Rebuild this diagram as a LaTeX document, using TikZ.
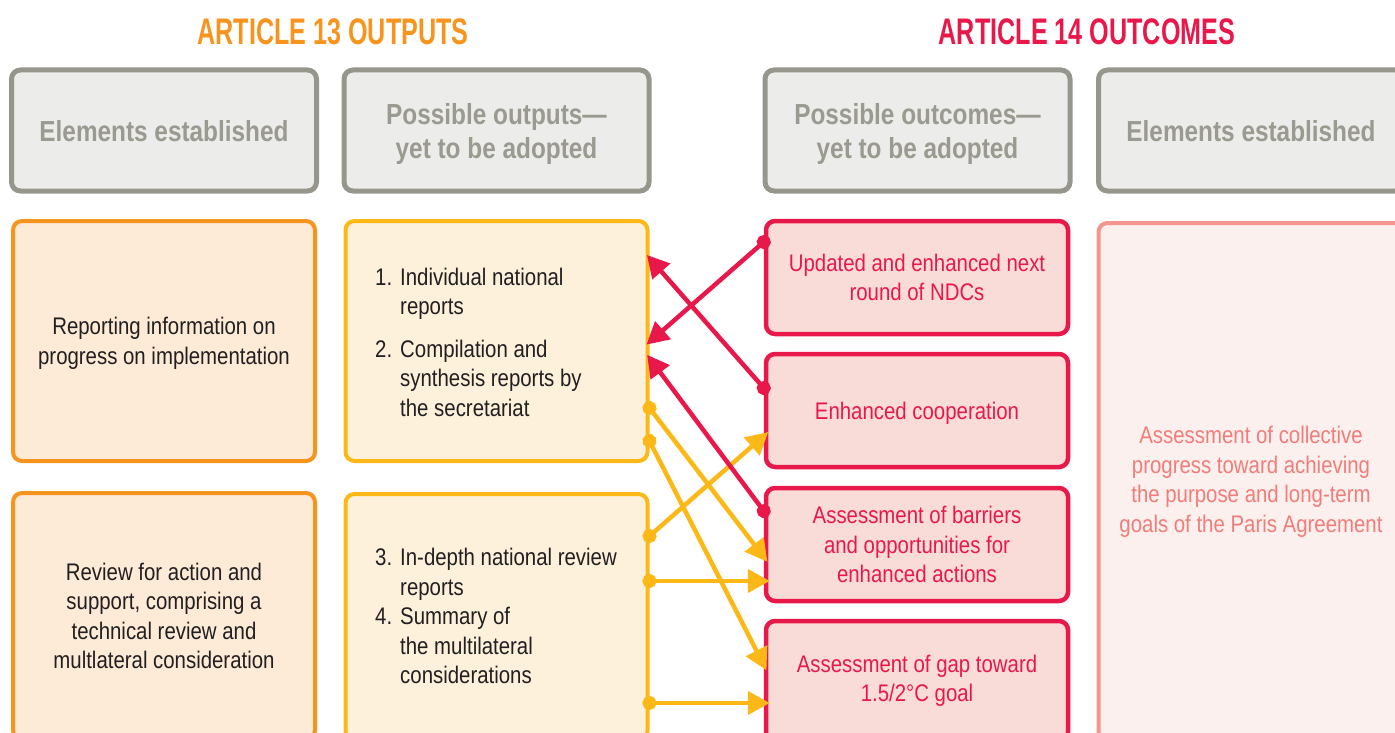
\documentclass[tikz,border=0pt]{standalone}
\usepackage{fontspec}
\setmainfont{Liberation Sans}[FakeStretch=0.85]
\newfontfamily\headfont{Liberation Sans}[FakeStretch=0.84]
\newfontfamily\titlefont{Liberation Sans}[FakeStretch=0.68]
\usetikzlibrary{arrows.meta}

\definecolor{artorange}{HTML}{F7941D}
\definecolor{artred}{HTML}{E8194A}
\definecolor{headline}{HTML}{97968C}
\definecolor{headfill}{HTML}{ECECEA}
\definecolor{headtext}{HTML}{9B9A91}
\definecolor{orangefill}{HTML}{FDEBD7}
\definecolor{gold}{HTML}{FCB817}
\definecolor{goldfill}{HTML}{FEF1DC}
\definecolor{redfill}{HTML}{F9DCD7}
\definecolor{pinkline}{HTML}{F4958E}
\definecolor{pinkfill}{HTML}{FCF0EE}
\definecolor{pinktext}{HTML}{F07D7A}
\definecolor{darktext}{HTML}{231F20}

\tikzset{
  box/.style={draw, rounded corners=9pt, line width=4pt, minimum width=302pt,
    inner sep=0pt, align=center, text=darktext,
    font=\fontsize{24}{29.5}\selectfont},
  headbox/.style={box, draw=headline, fill=headfill, text=headtext, line width=5pt,
    minimum width=305pt, minimum height=121pt, text depth=0pt,
    font=\headfont\bfseries\fontsize{29}{34}\selectfont},
  title/.style={font=\titlefont\bfseries\fontsize{37}{40}\selectfont, inner sep=0pt},
  elembox/.style={box, draw=artorange, fill=orangefill},
  outbox/.style={box, draw=gold, fill=goldfill},
  outcbox/.style={box, draw=artred, fill=redfill, text=artred, line width=4.5pt,
    minimum height=113pt},
  listtext/.style={anchor=west, inner sep=0pt, text=darktext,
    font=\fontsize{24}{29.5}\selectfont},
  redarrow/.style={draw=artred, line width=4.5pt,
    {Circle[length=14pt]}-{Triangle[length=22pt,width=23pt]},
    shorten <=-7pt, shorten >=-4pt},
  goldarrow/.style={draw=gold, line width=4.5pt,
    {Circle[length=14pt]}-{Triangle[length=22pt,width=23pt]},
    shorten <=-7pt, shorten >=-6pt}
}

\begin{document}
\begin{tikzpicture}[x=1pt,y=-1pt]
  \path[use as bounding box, clip] (0,0) rectangle (1395,733);

  % Titles
  \node[title, text=artorange] (t13) at (333,32) {ARTICLE 13 OUTPUTS};
  \node[title, text=artred] (t14) at (1087,32) {ARTICLE 14 OUTCOMES};

  % Header boxes
  \node[headbox] (h1) at (164,130.5) {Elements established};
  \node[headbox] (h2) at (496.5,130.5) {Possible outputs—\\yet to be adopted};
  \node[headbox] (h3) at (917.5,130.5) {Possible outcomes—\\yet to be adopted};
  \node[headbox] (h4) at (1251,130.5) {Elements established};

  % Article 13 elements
  \node[elembox, minimum height=240pt, text depth=0pt] (rep) at (164,341) {Reporting information on\\progress on implementation};
  \node[elembox, minimum height=246pt] (rev) at (164,616) {Review for action and\\support, comprising a\\technical review and\\multlateral consideration};

  % Article 13 outputs
  \node[outbox, minimum height=240pt] (out12) at (496.5,341) {};
  \node[outbox, minimum height=246pt] (out34) at (496.5,617) {};
  \node[listtext] (list12) at ([xshift=31.5pt,yshift=-4pt]out12.west) {%
    \begin{tabular}{@{}l@{\hspace{8pt}}l@{}}
      1. & Individual national\\
         & reports\\[13pt]
      2. & Compilation and\\
         & synthesis reports by\\
         & the secretariat
    \end{tabular}};
  \node[listtext] (list34) at ([xshift=31.5pt,yshift=-2pt]out34.west) {%
    \begin{tabular}{@{}l@{\hspace{8pt}}l@{}}
      3. & In-depth national review\\
         & reports\\
      4. & Summary of\\
         & the multilateral\\
         & considerations
    \end{tabular}};

  % Article 14 outcomes
  \node[outcbox] (ndc) at (917,277.5) {Updated and enhanced next\\round of NDCs};
  \node[outcbox, text depth=0pt] (coop) at (917,410.5) {Enhanced cooperation};
  \node[outcbox] (barr) at (917,544.5) {Assessment of barriers\\and opportunities for\\enhanced actions};
  \node[outcbox, minimum height=120pt] (gap) at (917,681) {Assessment of gap toward\\1.5/2°C goal};

  % Article 14 element
  \node[box, draw=pinkline, fill=pinkfill, text=pinktext, minimum width=305pt,
    minimum height=518pt] (gst) at (1251,482) {Assessment of collective\\progress toward achieving\\the purpose and long-term\\goals of the Paris Agreement};

  % Outputs feeding outcomes
  \draw[goldarrow] ([yshift=-67pt]out12.east) -- ([yshift=-12.5pt]barr.west);
  \draw[goldarrow] ([yshift=-100pt]out12.east) -- ([yshift=16pt]gap.west);
  \draw[goldarrow] ([yshift=81pt]out34.east) -- ([yshift=-25.5pt]coop.west);
  \draw[goldarrow] ([yshift=36pt]out34.east) -- ([yshift=-36.5pt]barr.west);
  \draw[goldarrow] ([yshift=-86pt]out34.east) -- ([yshift=-22pt]gap.west);

  % Outcomes feeding back
  \draw[redarrow] ([yshift=35.5pt]ndc.west) -- ([yshift=-1pt]out12.east);
  \draw[redarrow] ([yshift=22.5pt]coop.west) -- ([yshift=83pt]out12.east);
  \draw[redarrow] ([yshift=33.5pt]barr.west) -- ([yshift=-17pt]out12.east);
\end{tikzpicture}
\end{document}
